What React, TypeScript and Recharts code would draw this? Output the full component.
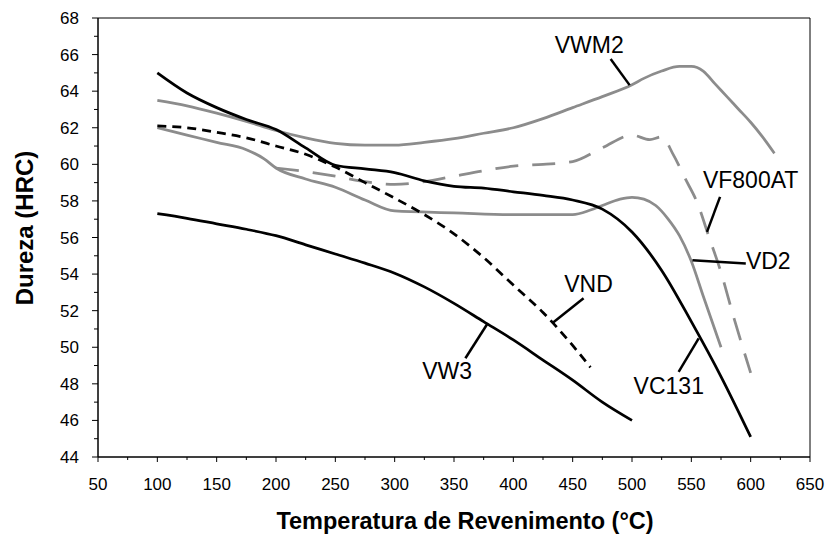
import React from 'react';
import { LineChart, Line, XAxis, YAxis, ReferenceArea, ReferenceLine, ReferenceDot } from 'recharts';

const FONT = '"Liberation Sans", Arial, Helvetica, sans-serif';
const BLACK = '#000000';
const GRAY = '#8c8c8c';

// Axis ticks (major every 50 / 2, minor in between)
const xTicks = [50, 75, 100, 125, 150, 175, 200, 225, 250, 275, 300, 325, 350, 375, 400, 425, 450, 475, 500, 525, 550, 575, 600, 625, 650];
const yTicks = [44, 45, 46, 47, 48, 49, 50, 51, 52, 53, 54, 55, 56, 57, 58, 59, 60, 61, 62, 63, 64, 65, 66, 67, 68];

// VWM2 (gray solid)
const vwm2Temp = [100, 125, 150, 175, 200, 225, 250, 275, 300, 325, 350, 375, 400, 425, 450, 475, 500, 510, 525, 540, 550, 560, 570, 580, 590, 600, 610, 620];
const vwm2Hrc = [63.5, 63.2, 62.8, 62.35, 61.85, 61.45, 61.15, 61.05, 61.05, 61.2, 61.4, 61.7, 62.0, 62.5, 63.1, 63.7, 64.35, 64.7, 65.1, 65.35, 65.35, 65.1, 64.4, 63.7, 63.0, 62.3, 61.5, 60.6];

// VD2 (gray solid)
const vd2Temp = [100, 125, 150, 175, 190, 200, 225, 250, 275, 300, 350, 400, 450, 465, 475, 490, 500, 510, 520, 530, 540, 550, 560, 575];
const vd2Hrc = [62.0, 61.6, 61.2, 60.8, 60.3, 59.8, 59.2, 58.75, 58.05, 57.45, 57.35, 57.25, 57.25, 57.5, 57.75, 58.1, 58.2, 58.1, 57.75, 57.05, 56.1, 54.7, 52.8, 50.0];

// VF800AT (gray dashed)
const vf800Temp = [200, 225, 250, 275, 300, 325, 350, 375, 400, 425, 450, 475, 500, 515, 525, 535, 545, 555, 565, 575, 585, 600];
const vf800Hrc = [59.8, 59.6, 59.35, 59.05, 58.9, 59.05, 59.35, 59.65, 59.9, 60.0, 60.15, 60.9, 61.6, 61.35, 61.5, 60.5, 59.2, 57.9, 56.0, 54.1, 51.8, 48.6];

// VC131 (black solid)
const vc131Temp = [100, 125, 150, 175, 200, 225, 250, 275, 300, 325, 350, 375, 400, 425, 450, 475, 500, 525, 550, 575, 600];
const vc131Hrc = [65.0, 63.9, 63.1, 62.45, 61.9, 60.9, 59.95, 59.75, 59.55, 59.1, 58.8, 58.7, 58.5, 58.3, 58.05, 57.55, 56.3, 54.2, 51.4, 48.4, 45.1];

// VW3 (black solid)
const vw3Temp = [100, 125, 150, 175, 200, 225, 250, 275, 300, 325, 350, 375, 400, 425, 450, 475, 500];
const vw3Hrc = [57.3, 57.05, 56.75, 56.45, 56.1, 55.6, 55.1, 54.6, 54.05, 53.3, 52.4, 51.4, 50.4, 49.3, 48.2, 47.0, 46.0];

// VND (black dashed)
const vndTemp = [100, 125, 150, 175, 200, 225, 250, 275, 300, 325, 350, 375, 400, 425, 450, 465];
const vndHrc = [62.1, 62.0, 61.75, 61.45, 61.0, 60.55, 59.85, 59.0, 58.15, 57.25, 56.2, 54.9, 53.4, 51.9, 50.1, 48.9];

// Series labels (data coordinates) and their leader lines
const seriesLabels = [
  { text: 'VWM2', t: 464, h: 66.52, anchor: 'middle' },
  { text: 'VF800AT', t: 600, h: 59.14, anchor: 'middle' },
  { text: 'VD2', t: 596, h: 54.72, anchor: 'start' },
  { text: 'VC131', t: 531, h: 47.87, anchor: 'middle' },
  { text: 'VND', t: 463.4, h: 53.45, anchor: 'middle' },
  { text: 'VW3', t: 344.2, h: 48.69, anchor: 'middle' },
];
const leaders = [
  { t1: 482, h1: 65.76, t2: 498, h2: 64.33 },
  { t1: 574.2, h1: 58.22, t2: 563.2, h2: 56.31 },
  { t1: 550.9, h1: 54.76, t2: 595.9, h2: 54.58 },
  { t1: 539.3, h1: 48.65, t2: 556.2, h2: 50.49 },
  { t1: 459.2, h1: 52.68, t2: 433.0, h2: 51.33 },
  { t1: 359.6, h1: 49.4, t2: 377.9, h2: 51.26 },
];

const toPoints = (t: number[], h: number[]) => t.map((x, i) => ({ t: x, h: h[i] }));

const XTick = (props: any) => {
  const { x, y, payload } = props;
  const v = payload.value;
  const major = v % 50 === 0;
  return (
    <g>
      <line x1={x} y1={y} x2={x} y2={y + (major ? 5 : 3)} stroke={BLACK} strokeWidth={1} />
      {major && (
        <text x={x} y={y + 33} textAnchor="middle" fontSize={17} fontFamily={FONT} fill={BLACK}>
          {v}
        </text>
      )}
    </g>
  );
};

const YTick = (props: any) => {
  const { x, y, payload } = props;
  const v = payload.value;
  const major = v % 2 === 0;
  return (
    <g>
      <line x1={x - (major ? 6 : 4)} y1={y} x2={x} y2={y} stroke={BLACK} strokeWidth={1} />
      {major && (
        <text x={x - 19} y={y} dy="0.355em" textAnchor="end" fontSize={17} fontFamily={FONT} fill={BLACK}>
          {v}
        </text>
      )}
    </g>
  );
};

const XTitle = (props: any) => {
  const vb = props.viewBox;
  return (
    <text
      x={vb.x + vb.width / 2 + 11}
      y={vb.y + vb.height - 7}
      textAnchor="middle"
      fontSize={23.5}
      fontWeight="bold"
      fontFamily={FONT}
      fill={BLACK}
    >
      Temperatura de Revenimento (°C)
    </text>
  );
};

const YTitle = (props: any) => {
  const vb = props.viewBox;
  const cx = vb.x + 33;
  const cy = vb.y + vb.height / 2 - 9.5;
  return (
    <text
      x={cx}
      y={cy}
      transform={`rotate(-90 ${cx} ${cy})`}
      textAnchor="middle"
      fontSize={24}
      fontWeight="bold"
      fontFamily={FONT}
      fill={BLACK}
    >
      Dureza (HRC)
    </text>
  );
};

const makeLabelShape = (text: string, anchor: string) => (props: any) => (
  <text x={props.cx} y={props.cy} dy="0.36em" textAnchor={anchor} fontSize={23} fontFamily={FONT} fill={BLACK}>
    {text}
  </text>
);

export default function App() {
  return (
    <div style={{ position: 'absolute', left: 0, top: 0, width: 832, height: 536, background: '#fff' }}>
      <LineChart width={832} height={536} margin={{ top: 18, right: 22, left: 0, bottom: 0 }}>
        <XAxis
          dataKey="t"
          type="number"
          domain={[50, 650]}
          ticks={xTicks}
          interval={0}
          allowDataOverflow
          height={79}
          tickSize={0}
          tickMargin={0}
          tickLine={false}
          axisLine={{ stroke: BLACK, strokeWidth: 1 }}
          tick={<XTick />}
          label={XTitle}
        />
        <YAxis
          type="number"
          domain={[44, 68]}
          ticks={yTicks}
          interval={0}
          allowDataOverflow
          width={98}
          tickSize={0}
          tickMargin={0}
          tickLine={false}
          axisLine={{ stroke: BLACK, strokeWidth: 1 }}
          tick={<YTick />}
          label={YTitle}
        />
        <ReferenceArea x1={50} x2={650} y1={44} y2={68} fill="none" fillOpacity={0} stroke={BLACK} strokeWidth={1} />
        <Line data={toPoints(vwm2Temp, vwm2Hrc)} dataKey="h" type="monotone" stroke={GRAY} strokeWidth={2.75} dot={false} activeDot={false} isAnimationActive={false} />
        <Line data={toPoints(vd2Temp, vd2Hrc)} dataKey="h" type="monotone" stroke={GRAY} strokeWidth={2.75} dot={false} activeDot={false} isAnimationActive={false} />
        <Line data={toPoints(vf800Temp, vf800Hrc)} dataKey="h" type="monotone" stroke={GRAY} strokeWidth={2.75} strokeDasharray="23 14" dot={false} activeDot={false} isAnimationActive={false} />
        <Line data={toPoints(vc131Temp, vc131Hrc)} dataKey="h" type="monotone" stroke={BLACK} strokeWidth={2.75} dot={false} activeDot={false} isAnimationActive={false} />
        <Line data={toPoints(vw3Temp, vw3Hrc)} dataKey="h" type="monotone" stroke={BLACK} strokeWidth={2.75} dot={false} activeDot={false} isAnimationActive={false} />
        <Line data={toPoints(vndTemp, vndHrc)} dataKey="h" type="monotone" stroke={BLACK} strokeWidth={2.75} strokeDasharray="9 6" dot={false} activeDot={false} isAnimationActive={false} />
        {leaders.map((l, i) => (
          <ReferenceLine
            key={`leader-${i}`}
            segment={[{ x: l.t1, y: l.h1 }, { x: l.t2, y: l.h2 }]}
            stroke={BLACK}
            strokeWidth={2.5}
          />
        ))}
        {seriesLabels.map((s) => (
          <ReferenceDot key={s.text} x={s.t} y={s.h} r={1} shape={makeLabelShape(s.text, s.anchor)} />
        ))}
      </LineChart>
    </div>
  );
}
